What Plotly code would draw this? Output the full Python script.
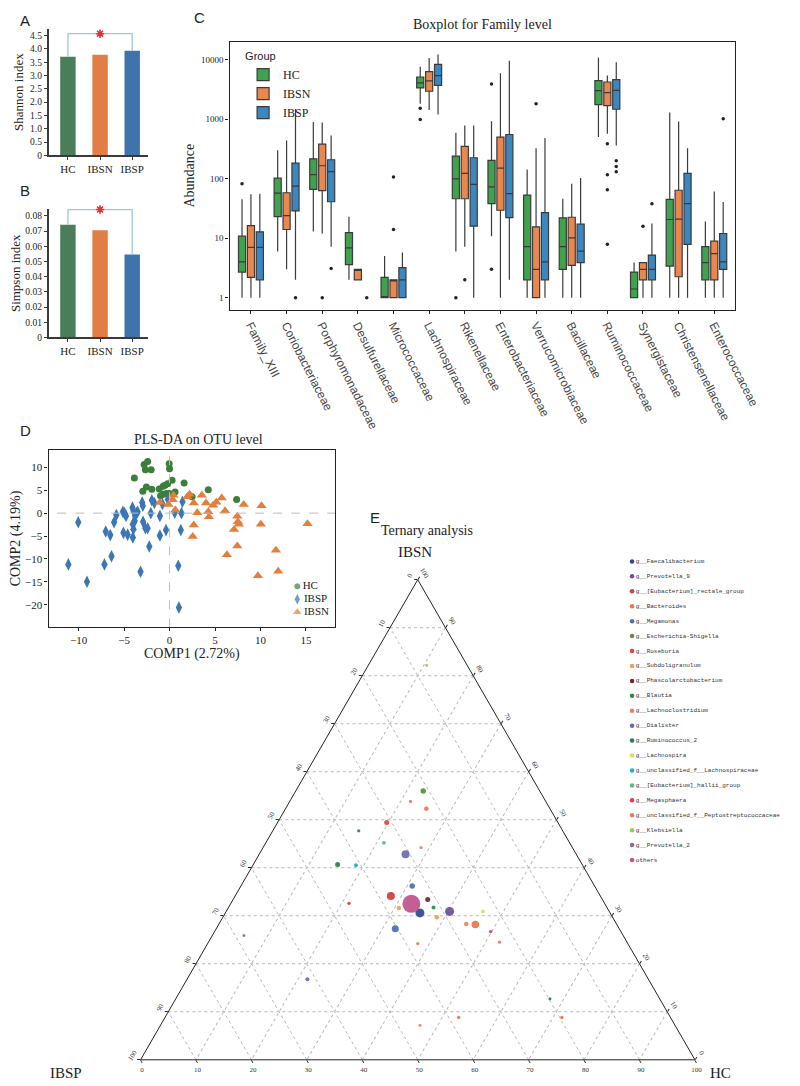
import plotly.graph_objects as go

W, H = 800, 1086
SERIF = "Liberation Serif"
SANS = "Liberation Sans"
MONO = "Liberation Mono"


def px_x(left, right):
    return [left / W, right / W]


def px_y(top, bottom):
    return [1 - bottom / H, 1 - top / H]


def serif(size, color="#222"):
    return dict(family=SERIF, size=size, color=color)


# ---------------- A / B : alpha diversity ----------------
groups = ["HC", "IBSN", "IBSP"]
bar_colors = ["#4b7d5b", "#e27d46", "#3e74ab"]
shannon = [3.70, 3.78, 3.93]
simpson = [0.0742, 0.0706, 0.0546]
shannon_ticks = [0, 0.5, 1.0, 1.5, 2.0, 2.5, 3.0, 3.5, 4.0, 4.5]
simpson_ticks = [0, 0.01, 0.02, 0.03, 0.04, 0.05, 0.06, 0.07, 0.08]

# ---------------- C : boxplot for family level ----------------
families = ["Family_XIII", "Coriobacteriaceae", "Porphyromonadaceae", "Desulfurellaceae",
            "Micrococcaceae", "Lachnospiraceae", "Rikenellaceae", "Enterobacteriaceae",
            "Verrucomicrobiaceae", "Bacillaceae", "Ruminococcaceae", "Synergistaceae",
            "Christensenellaceae", "Enterococcaceae"]
box_colors = ["#3fa34d", "#e8874f", "#3d87c0"]

hc_q1 = [2.7, 23, 66, 3.6, 1, 3350, 46, 38, 2, 3, 1760, 1, 3.4, 2]
hc_med = [4.0, 57, 117, 6.9, 1, 4070, 99, 73, 7.2, 7.2, 3020, 1.4, 20.6, 3.9]
hc_q3 = [10.8, 102, 216, 12.4, 2.2, 5120, 240, 203, 53, 22, 4450, 2.7, 45, 7.2]
hc_lo = [1, 6, 13, 2, 1, 1810, 6, 10.8, 1, 1, 500, 1, 1, 1]
hc_hi = [45, 300, 900, 23, 5, 7640, 590, 925, 143, 46, 10900, 3.9, 1290, 19]

ibsn_q1 = [2.2, 14, 63, 2, 1, 2950, 46, 29.5, 1, 3.5, 1690, 2, 2.25, 2]
ibsn_med = [7, 24, 165, 3, 2, 4390, 123, 151, 3, 10.1, 2800, 3, 21, 5.5]
ibsn_q3 = [16.3, 58, 381, 3, 2, 6300, 348, 500, 15.5, 22.5, 4220, 3.9, 64, 8.9]
ibsn_lo = [1, 3, 12, 2, 1, 1430, 7.2, 1, 1, 1, 570, 1, 1, 1]
ibsn_hi = [55, 440, 880, 3, 2, 10660, 783, 5900, 326, 82, 5400, 3.9, 914, 61]

ibsp_q1 = [2, 28.7, 41, None, 1, 3715, 15.9, 22.2, 2, 3.9, 1470, 2, 7.9, 3]
ibsp_med = [7, 75, 131, None, 2, 5395, 80, 56, 4, 6.05, 3060, 3, 38, 4]
ibsp_q3 = [12.8, 183, 208, None, 3.2, 8350, 225, 553, 27, 17.2, 4620, 5.2, 123, 12]
ibsp_lo = [1, 2, 7.2, None, 1, 1200, 1, 2, 1, 1, 362, 1, 1, 1]
ibsp_hi = [56, 1490, 532, None, 5.75, 12280, 783, 9620, 481, 103, 9020, 17.6, 326, 40.6]

# outliers: family index, group, value
out_fam = [0, 5, 5, 6, 7, 7,
           2, 4, 4, 6, 8, 10, 10, 10, 10, 11,
           1, 2, 3, 10, 10, 10, 11, 13]
out_grp = ["HC"] * 6 + ["IBSN"] * 10 + ["IBSP"] * 8
out_val = [82, 1530, 990, 1, 3910, 3.0,
           1, 14, 107, 2, 1810, 386, 117, 65, 7.9, 15.9,
           1, 3.1, 1, 200, 161, 131, 38, 1013]

# ---------------- D : PLS-DA ----------------
hc_c1 = [-2.80, -2.41, -2.66, -2.02, -0.04, 0.0, -3.87, 0.28, 1.60, -2.55, -2.94, -1.95,
         -1.13, -0.71, -0.50, -0.21, -0.99, -0.67, -0.35, -0.04, 0.60, 2.48, 4.26, 7.38]
hc_c2 = [10.6, 11.3, 9.5, 9.5, 10.8, 9.7, 7.7, 7.2, 6.6, 5.7, 4.8, 5.2,
         5.3, 5.9, 6.1, 6.4, 3.8, 4.1, 4.3, 4.3, 4.6, 3.6, 5.1, 3.0]
ibsp_c1 = [-10.04, -11.13, -9.08, -7.16, -7.02, -6.52, -6.38, -6.10, -5.85, -5.14, -4.96,
           -4.79, -5.07, -4.61, -4.08, -3.97, -3.79, -4.04, -3.97, -4.04, -3.62, -3.51,
           -3.83, -3.19, -3.01, -2.94, -2.91, -2.66, -2.41, -2.23, -2.06, -1.95, -1.67,
           -1.06, -1.06, -0.78, -0.39, -0.18, 0.57, 0.96, 1.03, 1.24, 1.31, 1.42]
ibsp_c2 = [-2.0, -11.2, -15.0, -11.2, -4.0, -4.8, -9.4, -2.0, -0.4, 0.3, 0.0,
           -0.6, -4.3, -4.7, 1.2, 0.5, -0.6, -2.4, -3.5, -5.3, 0.0, 0.3,
           -1.7, -12.8, 2.3, 1.6, -1.9, -3.3, -3.3, -7.3, 0.0, 2.8, 2.2,
           -0.6, -4.9, 2.0, -3.7, 3.0, 0.1, -11.5, -20.6, -3.7, 0.0, 2.5]
ibsn_c1 = [-1.06, -0.11, 0.43, 0.35, 0.64, 1.95, 2.20, 2.66, 3.05, 3.55, 4.01, 4.26,
           4.33, 4.79, 5.14, 5.74, 6.10, 2.66, 2.55, 6.31, 7.45, 7.52, 7.62, 7.09,
           7.45, 8.16, 10.11, 10.04, 11.70, 11.95, 9.72, 15.18]
ibsn_c2 = [2.3, 1.9, 3.9, 2.9, 0.7, 3.6, 4.1, 2.2, 0.1, 3.9, 2.2, 0.3,
           -0.8, 1.7, 2.4, 3.3, 0.5, -2.6, -5.1, -9.1, -0.7, -1.9, -2.4, -3.6,
           -7.2, 1.9, 1.6, -2.4, -8.1, -12.7, -13.7, -2.3]
pls_groups = ["HC", "IBSP", "IBSN"]
pls_colors = ["#3b7f3b", "#3a77b4", "#e67d3a"]
pls_symbols = ["circle", "diamond-tall", "triangle-up"]
pls_sizes = [7, 9, 9]

# ---------------- E : ternary ----------------
genus = ["g__Faecalibacterium", "g__Prevotella_9", "g__[Eubacterium]_rectale_group",
         "g__Bacteroides", "g__Megamonas", "g__Escherichia-Shigella", "g__Roseburia",
         "g__Subdoligranulum", "g__Phascolarctobacterium", "g__Blautia",
         "g__Lachnoclostridium", "g__Dialister", "g__Ruminococcus_2", "g__Lachnospira",
         "g__unclassified_f__Lachnospiraceae", "g__[Eubacterium]_hallii_group",
         "g__Megasphaera", "g__unclassified_f__Peptostreptococcaceae", "g__Klebsiella",
         "g__Prevotella_2", "others"]
genus_colors = ["#2b4a8b", "#6b4e9b", "#d63a3a", "#e8764a", "#4a6fb0", "#5a8f3c",
                "#e0473c", "#f0a04a", "#6b2a2a", "#2f8a4f", "#ee8060", "#6a6aaa",
                "#2e7b45", "#dede5a", "#2aa8d8", "#5cb87c", "#e03a4a", "#ee7a5a",
                "#9acb5a", "#8a6a9c", "#c0508c"]
pt_genus = [18, 5, 17, 3, 6, 9, 15, 10, 11, 12, 14, 4, 2, 16, 20, 7, 8,
            9, 0, 7, 1, 13, 10, 3, 16, 17, 4, 17, 11, 19, 12, 3, 10, 3]
pt_ibsn = [82.2, 56.0, 53.8, 52.3, 49.4, 47.7, 45.2, 44.2, 42.8, 40.7, 40.5, 36.2, 34.1,
           32.6, 32.5, 31.6, 33.4, 31.7, 30.6, 29.7, 30.9, 30.9, 28.3, 28.2, 26.7, 24.5,
           27.3, 24.2, 16.8, 25.9, 12.7, 8.8, 7.2, 8.8]
pt_ibsp = [7.3, 21.0, 24.4, 22.3, 30.9, 36.8, 33.5, 27.3, 30.8, 44.1, 40.9, 32.9, 37.8,
           46.1, 34.9, 37.6, 31.5, 31.3, 34.3, 31.7, 28.8, 22.8, 27.1, 25.5, 23.5, 23.0,
           40.4, 37.9, 61.5, 68.4, 19.8, 38.2, 46.0, 19.6]
pt_hc = [10.5, 23.0, 21.8, 25.4, 19.7, 15.5, 21.3, 28.5, 26.4, 15.2, 18.6, 30.9, 28.1,
         21.3, 32.6, 30.8, 35.1, 37.0, 35.1, 38.6, 40.3, 46.3, 44.6, 46.3, 49.8, 52.5,
         32.3, 37.9, 21.7, 5.7, 67.5, 53.0, 46.8, 71.6]
pt_size = [3, 5.5, 3.3, 4.5, 5, 3.3, 3.7, 3.3, 8, 5, 4, 5.5, 8, 3.3, 18, 4.5, 5,
           4, 9, 4.5, 9, 4, 4.5, 7.5, 3.3, 3.3, 7, 3.3, 4, 3, 3, 3.5, 3, 3.5]

fig = go.Figure()

# ---- A and B bars ----
for vals, xa, ya in [(shannon, "x", "y"), (simpson, "x2", "y2")]:
    fig.add_trace(go.Bar(x=groups, y=vals, width=0.48, showlegend=False,
                         marker=dict(color=bar_colors, line_width=0),
                         xaxis=xa, yaxis=ya, hoverinfo="skip"))

sh_top = 4.57
si_top = 0.0842
for vals, top, xa, ya in [(shannon, sh_top, "x", "y"), (simpson, si_top, "x2", "y2")]:
    fig.add_trace(go.Scatter(x=[groups[0], groups[0], groups[2], groups[2]],
                             y=[vals[0], top, top, vals[2]], mode="lines",
                             line=dict(color="#9fc6d6", width=1.3), showlegend=False,
                             xaxis=xa, yaxis=ya, hoverinfo="skip"))
    fig.add_trace(go.Scatter(x=[groups[1]], y=[top], mode="markers", showlegend=False,
                             marker=dict(symbol="asterisk-open", size=7, color="#e0303a",
                                         line=dict(color="#e0303a", width=1.6)),
                             cliponaxis=False, xaxis=xa, yaxis=ya, hoverinfo="skip"))

# ---- C boxplot ----
offsets = {"HC": -0.25, "IBSN": 0.0, "IBSP": 0.25}
box_stats = {
    "HC": (hc_q1, hc_med, hc_q3, hc_lo, hc_hi),
    "IBSN": (ibsn_q1, ibsn_med, ibsn_q3, ibsn_lo, ibsn_hi),
    "IBSP": (ibsp_q1, ibsp_med, ibsp_q3, ibsp_lo, ibsp_hi),
}
for g, col in zip(groups, box_colors):
    q1, med, q3, lo, hi = box_stats[g]
    keep = [i for i in range(len(families)) if q1[i] is not None]
    fig.add_trace(go.Box(
        name=g, x=[i + offsets[g] for i in keep],
        q1=[q1[i] for i in keep], median=[med[i] for i in keep], q3=[q3[i] for i in keep],
        lowerfence=[lo[i] for i in keep], upperfence=[hi[i] for i in keep],
        width=0.2, whiskerwidth=0, fillcolor=col,
        line=dict(color="#3a3a3a", width=1.2),
        xaxis="x3", yaxis="y3", legend="legend", hoverinfo="skip"))

fig.add_trace(go.Scatter(
    x=[f + offsets[g] for f, g in zip(out_fam, out_grp)], y=out_val, mode="markers",
    marker=dict(color="#222222", size=3.5), showlegend=False,
    xaxis="x3", yaxis="y3", hoverinfo="skip"))

# ---- D PLS-DA ----
pls_xy = [(hc_c1, hc_c2), (ibsp_c1, ibsp_c2), (ibsn_c1, ibsn_c2)]
for k, (xs, ys) in enumerate(pls_xy):
    fig.add_trace(go.Scatter(x=xs, y=ys, mode="markers", showlegend=False,
                             marker=dict(symbol=pls_symbols[k], size=pls_sizes[k],
                                         color=pls_colors[k]),
                             xaxis="x4", yaxis="y4", hoverinfo="skip"))
# compact legend for D
fig.add_trace(go.Scatter(
    x=[0] * 3, y=list(range(3)), mode="markers+text", text=pls_groups,
    textposition="middle right", textfont=serif(11),
    marker=dict(symbol=pls_symbols, size=pls_sizes, color=pls_colors),
    showlegend=False, cliponaxis=False, xaxis="x6", yaxis="y6", hoverinfo="skip"))

# ---- E ternary ----
for k, name in enumerate(genus):
    idx = [i for i, g in enumerate(pt_genus) if g == k]
    if not idx:
        continue
    fig.add_trace(go.Scatterternary(
        a=[pt_ibsn[i] for i in idx], b=[pt_ibsp[i] for i in idx], c=[pt_hc[i] for i in idx],
        mode="markers", name=name, showlegend=False,
        marker=dict(color=genus_colors[k], size=[pt_size[i] for i in idx], opacity=0.92,
                    line_width=0),
        subplot="ternary", hoverinfo="skip"))

# ternary legend as a column of labelled dots
fig.add_trace(go.Scatter(
    x=[0] * len(genus), y=list(range(len(genus))), mode="markers+text", text=genus,
    textposition="middle right", textfont=dict(family=MONO, size=6, color="#333"),
    marker=dict(color=genus_colors, size=4.5), showlegend=False, cliponaxis=False,
    xaxis="x5", yaxis="y5", hoverinfo="skip"))

# ---------------- layout ----------------
axis_line = dict(showline=True, linecolor="#3a3a3a", linewidth=1.5, ticks="outside",
                 ticklen=3, tickcolor="#3a3a3a", showgrid=False, zeroline=False)
box_axis = dict(mirror=True, showline=True, linecolor="#222", linewidth=1.3,
                ticks="outside", ticklen=3, tickcolor="#222", showgrid=False, zeroline=False)

tern_ticks = list(range(0, 101, 10))
tern_axis = dict(color="#333", showline=True, linecolor="#222", linewidth=1, showgrid=True,
                 gridcolor="#b8b8b8", gridwidth=0.8, griddash="dot",
                 ticks="outside", ticklen=3, tickcolor="#222",
                 tickfont=serif(7, "#333"),
                 tickvals=tern_ticks, ticktext=[str(100 - v) for v in tern_ticks],
                 title=dict(text=""))

fig.update_layout(
    width=W, height=H, margin=dict(l=0, r=0, t=0, b=0),
    paper_bgcolor="white", plot_bgcolor="white",
    font=dict(family=SERIF, color="#222"),
    xaxis=dict(domain=px_x(42, 145), range=[-0.6, 2.5], anchor="y", **axis_line,
               tickfont=serif(11)),
    yaxis=dict(domain=px_y(21, 148), range=[0, 4.75], anchor="x", **axis_line,
               tickvals=shannon_ticks, ticktext=["0"] + [f"{v:.1f}" for v in shannon_ticks[1:]],
               tickfont=serif(9.5),
               title=dict(text="Shannon index", font=serif(13), standoff=4)),
    xaxis2=dict(domain=px_x(42, 145), range=[-0.6, 2.5], anchor="y2", **axis_line,
                tickfont=serif(11)),
    yaxis2=dict(domain=px_y(202, 331), range=[0, 0.0845], anchor="x2", **axis_line,
                tickvals=simpson_ticks, ticktext=["0"] + [f"{v:.2f}" for v in simpson_ticks[1:]],
                tickfont=serif(9.5),
                title=dict(text="Simpson index", font=serif(13), standoff=4)),
    xaxis3=dict(domain=px_x(229, 751), range=[-0.6, 13.57], anchor="y3", **box_axis,
                tickvals=list(range(len(families))), ticktext=families, tickangle=63,
                tickfont=dict(family=SANS, size=12, color="#444")),
    yaxis3=dict(domain=px_y(34, 303), type="log", range=[-0.2, 4.3], anchor="x3", **box_axis,
                tickvals=[1, 10, 100, 1000, 10000], ticktext=["1", "10", "100", "1000", "10000"],
                tickfont=serif(9),
                title=dict(text="Abundance", font=serif(14), standoff=3)),
    xaxis4=dict(domain=px_x(42, 338), range=[-13.3, 18.2], anchor="y4", **box_axis,
                tickvals=[-10, -5, 0, 5, 10, 15], tickfont=serif(11),
                title=dict(text="COMP1 (2.72%)", font=serif(14), standoff=0)),
    yaxis4=dict(domain=px_y(444, 622), range=[-24.9, 13.8], anchor="x4", **box_axis,
                tickvals=[-20, -15, -10, -5, 0, 5, 10], tickfont=serif(11),
                title=dict(text="COMP2 (4.19%)", font=serif(14), standoff=4)),
    xaxis5=dict(domain=px_x(640, 800), range=[-5, 155], anchor="y5", visible=False),
    yaxis5=dict(domain=px_y(548.5, 863.5), range=[20.5, -0.5], anchor="x5", visible=False),
    xaxis6=dict(domain=px_x(294, 336), range=[-5, 37], anchor="y6", visible=False),
    yaxis6=dict(domain=px_y(574.5, 613.5), range=[2.5, -0.5], anchor="x6", visible=False),
    ternary=dict(domain=dict(x=px_x(137, 710), y=px_y(568, 1063)), sum=100,
                 bgcolor="white", aaxis=dict(**tern_axis, tickangle=-60),
                 baxis=tern_axis, caxis=dict(**tern_axis, tickangle=60)),
    legend=dict(x=243 / W, y=1 - 38 / H, xanchor="left", yanchor="top",
                bgcolor="rgba(0,0,0,0)", font=serif(12), tracegroupgap=0,
                title=dict(text="Group", font=dict(family=SANS, size=11, color="#222"))),
    shapes=[
        dict(type="line", xref="x4 domain", yref="y4", x0=0.03, x1=1, y0=0, y1=0,
             line=dict(color="#bdbdbd", width=1, dash="dash")),
        dict(type="line", xref="x4", yref="y4 domain", x0=0, x1=0, y0=0, y1=1,
             line=dict(color="#bdbdbd", width=1, dash="dash")),
    ],
)

notes = [
    ("A", 10, 13, SANS, 15, "left"), ("B", 10, 183, SANS, 15, "left"),
    ("C", 190, 10, SANS, 15, "left"), ("D", 10, 424, SANS, 15, "left"),
    ("E", 372, 512, SANS, 15, "left"),
    ("Boxplot for Family level", 490, 17, SERIF, 14, "center"),
    ("PLS-DA on OTU level", 197, 433, SERIF, 14, "center"),
    ("Ternary analysis", 383, 525, SERIF, 14, "left"),
    ("IBSN", 421, 547, SERIF, 15, "center"),
    ("IBSP", 60, 1070, SERIF, 15, "center"),
    ("HC", 736, 1070, SERIF, 15, "center"),
]
for text, x, y, fam, size, anchor in notes:
    fig.add_annotation(text=text, x=x / W, y=1 - y / H, xref="paper", yref="paper",
                       xanchor=anchor, yanchor="middle", showarrow=False,
                       font=dict(family=fam, size=size, color="#222"))

fig.write_html("out.html")
